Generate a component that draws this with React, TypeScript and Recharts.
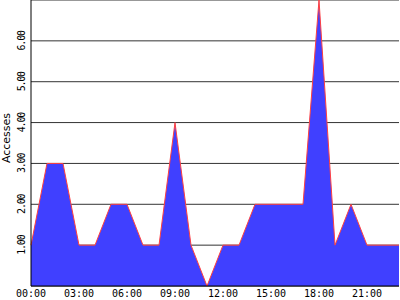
import React from 'react';
import { AreaChart, Area, XAxis, YAxis, CartesianGrid, Label } from 'recharts';

const hours = [0,1,2,3,4,5,6,7,8,9,10,11,12,13,14,15,16,17,18,19,20,21,22,23];
const accesses = [1,3,3,1,1,2,2,1,1,4,1,0,1,1,2,2,2,2,7,1,2,1,1,1];
const xTicks = [0,3,6,9,12,15,18,21];
const yTicks = [1,2,3,4,5,6,7];

const data = hours.map((h, i) => ({ h, v: accesses[i] }));

const pad = (n: number) => (n < 10 ? '0' + n : '' + n);

const YTick = (props: any) => {
  const { x, y, payload } = props;
  if (payload.value === 7) return null;
  const bx = x - 4;
  return (
    <text
      x={bx}
      y={y}
      transform={`rotate(-90 ${bx} ${y})`}
      textAnchor="middle"
      fontFamily="DejaVu Sans Mono"
      fontSize={10}
      letterSpacing={-1.2}
      fill="#000"
    >
      {payload.value.toFixed(2)}
    </text>
  );
};

export default function App() {
  return (
    <div style={{ position: 'absolute', left: 0, top: 0, background: '#fff' }}>
      <AreaChart width={400} height={300} data={data} margin={{ top: 0, right: 1, left: 0, bottom: 0 }}>
        <CartesianGrid vertical={false} stroke="#333" strokeWidth={1} />
        <XAxis
          dataKey="h"
          type="number"
          domain={[0, 23]}
          ticks={xTicks}
          tickFormatter={(v: number) => pad(v) + ':00'}
          tickLine={false}
          tickSize={0}
          tickMargin={4}
          height={14}
          axisLine={{ stroke: '#000' }}
          tick={{ fontFamily: 'DejaVu Sans Mono', fontSize: 10, fill: '#000' }}
          interval={0}
        />
        <YAxis
          type="number"
          domain={[0, 7]}
          ticks={yTicks}
          width={31}
          tickLine={false}
          tickSize={0}
          axisLine={{ stroke: '#000' }}
          tick={<YTick />}
          interval={0}
          label={
            <Label
              content={() => (
                <text
                  x={10}
                  y={138}
                  transform="rotate(-90 10 138)"
                  textAnchor="middle"
                  fontFamily="DejaVu Sans"
                  fontSize={11}
                  fill="#000"
                >
                  Accesses
                </text>
              )}
            />
          }
        />
        <Area
          type="linear"
          dataKey="v"
          stroke="#ff4040"
          strokeWidth={1}
          fill="#4040ff"
          fillOpacity={1}
          isAnimationActive={false}
          dot={false}
          activeDot={false}
        />
      </AreaChart>
    </div>
  );
}
